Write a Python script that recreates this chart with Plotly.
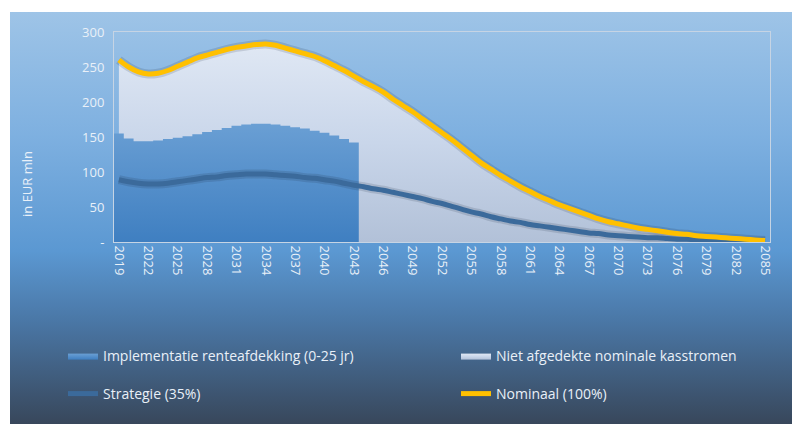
import base64
import plotly.graph_objects as go

# ---------------- data ----------------
YEARS = list(range(2019, 2086))
NOMINAAL = [260, 250, 243, 240, 241, 245, 251, 257, 263, 267, 271, 275, 278, 280, 282, 283, 281, 277,
            273, 269, 265, 259, 252, 245, 237, 229, 222, 214, 204, 195, 186, 176, 166, 156, 146, 135,
            124, 113, 104, 95, 87, 79, 72, 65, 59, 53, 48, 43, 38, 33, 29, 26, 23, 20, 18, 16, 14, 12,
            11, 9, 8, 7, 6, 5, 4, 3, 2]
STRATEGIE = [89, 86, 84, 83, 83, 84, 86, 88, 90, 92, 93, 95, 96, 97, 97, 97, 96, 95, 94, 92, 91, 89,
             87, 84, 81, 79, 76, 74, 71, 68, 65, 62, 58, 55, 51, 47, 43, 40, 36, 33, 30, 28, 25, 23,
             21, 19, 17, 15, 13, 12, 10, 9, 8, 7, 6, 6, 5, 4, 4, 3, 3, 2, 2, 2, 1, 1, 1]
HEDGE_YEARS = list(range(2019, 2044))
IMPLEMENTATIE = [155, 148, 144, 144, 145, 147, 149, 151, 154, 157, 160, 163, 166, 168, 169, 169, 168,
                 166, 164, 162, 159, 156, 152, 147, 142]
TICK_YEARS = [2019, 2022, 2025, 2028, 2031, 2034, 2037, 2040, 2043, 2046, 2049, 2052, 2055, 2058,
              2061, 2064, 2067, 2070, 2073, 2076, 2079, 2082, 2085]
Y_TICKS = [0, 50, 100, 150, 200, 250, 300]
Y_TICKTEXT = ["-", "50", "100", "150", "200", "250", "300"]

NAMES = ["Implementatie renteafdekking (0-25 jr)", "Niet afgedekte nominale kasstromen",
         "Strategie (35%)", "Nominaal (100%)"]

# ---------------- layout constants ----------------
W, H = 792, 424
ML, MR, MT, MB = 114, 22, 32, 182
FONT = "Open Sans, Lato, sans-serif"
TXT = "#e9f0f8"

fig = go.Figure()

# hedged part (step fill, bars of width 1)
hx = [y - 0.5 for y in HEDGE_YEARS] + [HEDGE_YEARS[-1] + 0.5]
hy = IMPLEMENTATIE + [IMPLEMENTATIE[-1]]

light = go.Scatter(
    x=YEARS, y=NOMINAAL, mode="lines", line=dict(width=0, shape="spline"),
    fill="tozeroy",
    fillgradient=dict(type="vertical", start=0, stop=285,
                      colorscale=[[0, "#b2c1d8"], [0.5, "#c9d6ea"], [1, "#e0e8f4"]]),
    name=NAMES[1], legend="legend2", hoverinfo="skip")
hedge = go.Scatter(
    x=hx, y=hy, mode="lines", line=dict(width=0, shape="hv"),
    fill="tozeroy",
    fillgradient=dict(type="vertical", start=0, stop=170,
                      colorscale=[[0, "#3f7fc1"], [1, "#6a9fd4"]]),
    name=NAMES[0], legend="legend", hoverinfo="skip")
fig.add_trace(light)
fig.add_trace(hedge)

# soft shadows under the lines
fig.add_trace(go.Scatter(x=YEARS, y=STRATEGIE, mode="lines",
                         line=dict(color="rgba(30,40,60,0.15)", width=9, shape="spline"),
                         showlegend=False, hoverinfo="skip"))
fig.add_trace(go.Scatter(x=YEARS, y=NOMINAAL, mode="lines",
                         line=dict(color="rgba(30,40,60,0.15)", width=9, shape="spline"),
                         showlegend=False, hoverinfo="skip"))

fig.add_trace(go.Scatter(x=YEARS, y=STRATEGIE, mode="lines",
                         line=dict(color="#3b6a9b", width=5, shape="spline"),
                         name=NAMES[2], legend="legend3"))
fig.add_trace(go.Scatter(x=YEARS, y=NOMINAAL, mode="lines",
                         line=dict(color="#ffc000", width=5, shape="spline"),
                         name=NAMES[3], legend="legend4"))

# background gradient as svg image
svg = ("<svg xmlns='http://www.w3.org/2000/svg' width='782' height='412' preserveAspectRatio='none'>"
       "<defs><linearGradient id='g' x1='0' y1='0' x2='0' y2='1'>"
       "<stop offset='0' stop-color='#9ec4e7'/>"
       "<stop offset='0.3' stop-color='#7eb0e0'/>"
       "<stop offset='0.58' stop-color='#5b98d2'/>"
       "<stop offset='0.75' stop-color='#4a77a6'/>"
       "<stop offset='1' stop-color='#38475b'/>"
       "</linearGradient></defs><rect width='782' height='412' fill='url(#g)'/></svg>")
src = "data:image/svg+xml;base64," + base64.b64encode(svg.encode()).decode()

pw = W - ML - MR
ph = H - MT - MB
x0 = (10 - ML) / pw
x1 = (W - ML) / pw
y_top = (H - MB - 12) / ph
y_bot = (H - MB - H) / ph

fig.add_layout_image(dict(source=src, xref="paper", yref="paper", x=x0, y=y_top,
                          sizex=x1 - x0, sizey=y_top - y_bot, sizing="stretch",
                          xanchor="left", yanchor="top", layer="below"))


def leg(xpx, ypx):
    return dict(orientation="v", xref="container", yref="container",
                x=xpx / W, y=1 - ypx / H,
                xanchor="left", yanchor="middle", bgcolor="rgba(0,0,0,0)",
                font=dict(family=FONT, size=14, color=TXT), itemwidth=30)


fig.update_layout(
    width=W, height=H,
    margin=dict(l=ML, r=MR, t=MT, b=MB, autoexpand=False),
    paper_bgcolor="white", plot_bgcolor="rgba(0,0,0,0)",
    font=dict(family=FONT, size=13, color=TXT),
    showlegend=True,
    legend=leg(63, 356),
    legend2=leg(456, 356),
    legend3=leg(63, 394),
    legend4=leg(456, 394),
    xaxis=dict(range=[YEARS[0] - 0.5, YEARS[-1] + 0.5], tickmode="array", tickvals=TICK_YEARS,
               ticktext=[str(t) for t in TICK_YEARS], tickangle=90, showgrid=False,
               zeroline=False, showline=True, linecolor="#c6d4e4", linewidth=1, mirror=True,
               ticks="", tickfont=dict(family=FONT, size=13, color=TXT)),
    yaxis=dict(range=[0, 300], tickmode="array", tickvals=Y_TICKS, ticktext=Y_TICKTEXT,
               showgrid=False, zeroline=False, showline=True, linecolor="#c6d4e4", linewidth=1,
               mirror=True, ticks="", ticklabelstandoff=6,
               tickfont=dict(family=FONT, size=13, color=TXT)),
    annotations=[dict(text="in EUR mln", xref="paper", yref="paper", x=(27 - ML) / pw,
                      y=(H - MB - 184) / ph, showarrow=False, textangle=-90,
                      font=dict(family=FONT, size=13, color=TXT),
                      xanchor="center", yanchor="middle")],
)

fig.write_html("out.html")
